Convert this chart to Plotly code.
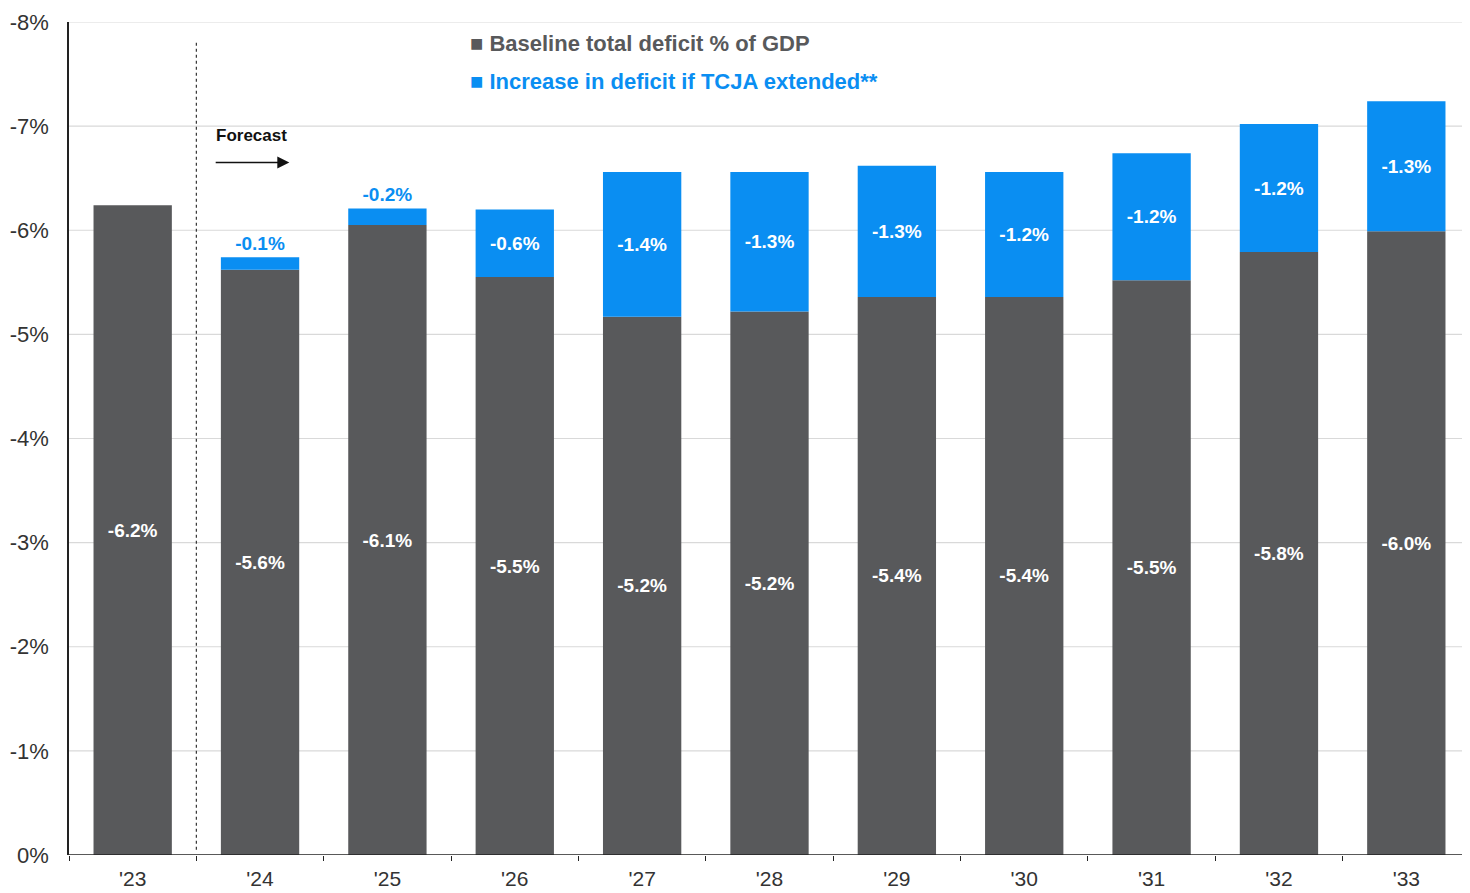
import plotly.graph_objects as go

years = ["'23", "'24", "'25", "'26", "'27", "'28", "'29", "'30", "'31", "'32", "'33"]
baseline = [-6.24, -5.62, -6.05, -5.55, -5.17, -5.22, -5.36, -5.36, -5.52, -5.79, -5.99]
baseline_labels = ["-6.2%", "-5.6%", "-6.1%", "-5.5%", "-5.2%", "-5.2%", "-5.4%", "-5.4%", "-5.5%", "-5.8%", "-6.0%"]
increase = [None, -0.12, -0.16, -0.65, -1.39, -1.34, -1.26, -1.20, -1.22, -1.23, -1.25]
increase_labels = ["", "-0.1%", "-0.2%", "-0.6%", "-1.4%", "-1.3%", "-1.3%", "-1.2%", "-1.2%", "-1.2%", "-1.3%"]
increase_textpos = ["none", "outside", "outside", "inside", "inside", "inside", "inside", "inside", "inside", "inside", "inside"]
y_ticks = [-8, -7, -6, -5, -4, -3, -2, -1, 0]
y_ticktext = ["-8%", "-7%", "-6%", "-5%", "-4%", "-3%", "-2%", "-1%", "0%"]

GRAY = "#58595B"
BLUE = "#0A8EF2"
FONT = "Liberation Sans, Arial, sans-serif"
GRID_END = 0.995  # gridlines / x-axis line stop just short of the right edge

fig = go.Figure()
fig.add_trace(go.Bar(
    x=years, y=baseline, name="Baseline total deficit % of GDP",
    marker=dict(color=GRAY, line=dict(width=0)),
    text=baseline_labels, textposition="inside", insidetextanchor="middle",
    insidetextfont=dict(color="white", size=19, family=FONT, weight="bold"),
    constraintext="none", showlegend=False, hoverinfo="x+y",
))
fig.add_trace(go.Bar(
    x=years, y=increase, name="Increase in deficit if TCJA extended**",
    marker=dict(color=BLUE, line=dict(width=0)),
    text=increase_labels, textposition=increase_textpos, insidetextanchor="middle",
    insidetextfont=dict(color="white", size=19, family=FONT, weight="bold"),
    outsidetextfont=dict(color=BLUE, size=19, family=FONT, weight="bold"),
    constraintext="none", cliponaxis=False, showlegend=False, hoverinfo="x+y",
))

fig.update_layout(
    width=1462, height=885,
    margin=dict(l=61, r=0, t=14, b=38, autoexpand=False),
    barmode="relative", bargap=0.385,
    plot_bgcolor="white", paper_bgcolor="white",
    font=dict(family=FONT, size=20, color="#333333"),
    xaxis=dict(
        showline=False, automargin=False,
        ticks="outside", tickson="boundaries", ticklen=5, tickcolor="#222222",
        ticklabelstandoff=9,
        tickfont=dict(size=21, color="#333333"), showgrid=False,
    ),
    yaxis=dict(
        range=[0, -8], tickvals=y_ticks, ticktext=y_ticktext, automargin=False,
        showline=True, linecolor="#222222", linewidth=1.5,
        showgrid=False, zeroline=False, ticks="", ticklabelstandoff=14,
        tickfont=dict(size=22, color="#333333"),
    ),
)

# gridlines (stop slightly short of the right edge, as in the source)
for v in y_ticks[:-1]:
    fig.add_shape(type="line", xref="paper", yref="y", x0=0, x1=GRID_END, y0=v, y1=v,
                  line=dict(color="#D9D9D9", width=1.2), layer="below")
# x-axis baseline
fig.add_shape(type="line", xref="paper", yref="y", x0=0, x1=GRID_END, y0=0, y1=0,
              line=dict(color="#222222", width=1.5), layer="above")

# Forecast divider
fig.add_shape(type="line", xref="x", yref="y", x0=0.5, x1=0.5, y0=-7.8, y1=-0.05,
              line=dict(color="#333333", width=1.2, dash="dot"))
fig.add_annotation(x=0.64, y=-6.91, xref="x", yref="y", text="<b>Forecast</b>",
                   showarrow=False, xanchor="left", yanchor="middle",
                   font=dict(size=17, color="#111111", family=FONT))
fig.add_annotation(x=1.23, y=-6.65, ax=0.64, ay=-6.65, xref="x", yref="y",
                   axref="x", ayref="y", text="", showarrow=True,
                   arrowhead=2, arrowsize=1.6, arrowwidth=1.5, arrowcolor="#111111")

# Legend as annotations
fig.add_annotation(x=0.285, y=-7.79, xref="paper", yref="y",
                   text="<b>■ Baseline total deficit % of GDP</b>",
                   showarrow=False, xanchor="left", yanchor="middle",
                   font=dict(size=22, color=GRAY, family=FONT))
fig.add_annotation(x=0.285, y=-7.43, xref="paper", yref="y",
                   text="<b>■ Increase in deficit if TCJA extended**</b>",
                   showarrow=False, xanchor="left", yanchor="middle",
                   font=dict(size=22, color=BLUE, family=FONT))

fig.write_html("out.html")
